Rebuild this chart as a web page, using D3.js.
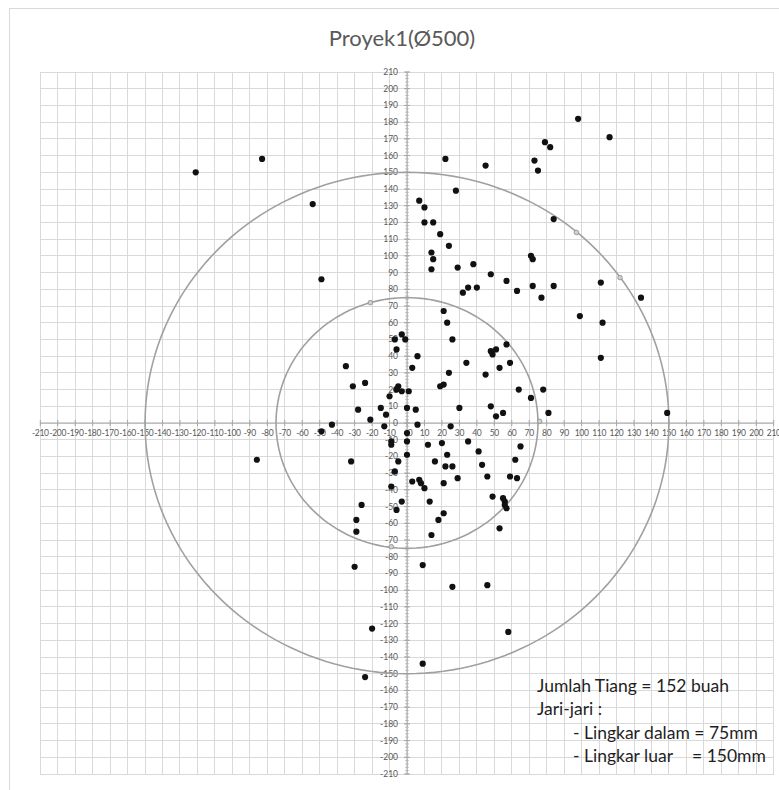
<!DOCTYPE html>
<html>
<head>
<meta charset="utf-8">
<script src="https://cdn.jsdelivr.net/npm/d3@7"></script>
<style>
  html, body { margin: 0; padding: 0; background: #fff; }
  svg { display: block; }
</style>
</head>
<body>
<script>
// ---- data ----
const title = "Proyek1(Ø500)";
const tickValues = d3.range(-210, 211, 10);
const radii = [75, 150];
const pointsX = [-121,-83,-54,-49,7,98,116,79,82,22,45,73,75,28,10,10,15,84,19,24,14,15,14,29,38,71,72,111,134,48,57,63,72,84,77,32,35,40,99,112,111,149,21,23,26,57,48,51,49,59,34,53,45,24,19,21,64,78,71,30,48,51,55,81,25,12,20,35,65,41,23,16,22,26,43,62,29,46,59,63,21,7,8,10,-7,-3,-1,-6,6,3,-35,-31,-24,-5,-6,-3,1,-10,-28,-15,-12,0,5,-21,-43,-49,-13,6,-9,-9,0,0,-86,-32,-5,0,-7,-9,3,13,-3,-6,18,14,9,9,-26,-29,-29,-30,21,49,55,56,56,57,53,26,46,58,-20,-24];
const pointsY = [150,158,131,86,133,182,171,168,165,158,154,157,151,139,129,120,120,122,113,106,102,98,92,93,95,100,98,84,75,89,85,79,82,82,75,78,81,81,64,60,39,6,67,60,50,47,43,44,41,36,36,33,29,30,22,23,20,20,15,9,10,4,6,6,-2,-13,-12,-11,-14,-17,-19,-23,-26,-26,-25,-22,-33,-32,-32,-33,-36,-34,-36,-39,50,53,50,44,40,33,34,22,24,22,20,19,19,16,8,9,5,9,8,2,-1,-5,-2,-1,-11,-13,-6,-11,-22,-23,-23,-19,-29,-38,-35,-47,-47,-52,-58,-67,-85,-144,-49,-58,-65,-86,-54,-44,-45,-47,-49,-51,-63,-98,-97,-125,-123,-152];
const circleMarkX = [-21, 76, -9, 97, 122];
const circleMarkY = [72, 1, -74, 114, 87];
const noteLines = ["Jumlah Tiang = 152 buah", "Jari-jari :", "- Lingkar dalam = 75mm", "- Lingkar luar", "= 150mm"];

// ---- layout ----
const W = 779, H = 790;
const svg = d3.select("body").append("svg").attr("width", W).attr("height", H);

const x = d3.scaleLinear().domain([-210, 210]).range([40.3, 773.7]);
const y = d3.scaleLinear().domain([-210, 210]).range([774, 72]);

// chart border
svg.append("rect").attr("x", 9.5).attr("y", 8.5).attr("width", W + 10).attr("height", H + 10)
  .attr("fill", "none").attr("stroke", "#d9d9d9").attr("stroke-width", 1);

// title
svg.append("text").attr("x", 402).attr("y", 46).attr("text-anchor", "middle")
  .attr("font-family", "Lato, 'Open Sans', sans-serif").attr("font-size", 22)
  .attr("fill", "#595959").text(title);

// gridlines
const grid = svg.append("g").attr("stroke", "#d9d9d9").attr("stroke-width", 1).attr("shape-rendering", "crispEdges");
grid.selectAll(".gv").data(tickValues).join("line")
  .attr("x1", d => x(d)).attr("x2", d => x(d)).attr("y1", y(210)).attr("y2", y(-210));
grid.selectAll(".gh").data(tickValues).join("line")
  .attr("y1", d => y(d)).attr("y2", d => y(d)).attr("x1", x(-210)).attr("x2", x(210));

// axes
const axisColor = "#a6a6a6";
const ax = svg.append("g");
ax.append("line").attr("x1", x(-210)).attr("x2", x(210)).attr("y1", y(0)).attr("y2", y(0))
  .attr("stroke", axisColor).attr("stroke-width", 1);
ax.append("line").attr("x1", x(0)).attr("x2", x(0)).attr("y1", y(210)).attr("y2", y(-210))
  .attr("stroke", axisColor).attr("stroke-width", 1);
ax.selectAll(".tx").data(tickValues).join("line")
  .attr("x1", d => x(d)).attr("x2", d => x(d)).attr("y1", y(0) - 3).attr("y2", y(0) + 3)
  .attr("stroke", axisColor);
ax.selectAll(".ty").data(tickValues).join("line")
  .attr("y1", d => y(d)).attr("y2", d => y(d)).attr("x1", x(0) - 3).attr("x2", x(0) + 3)
  .attr("stroke", axisColor);
ax.selectAll(".mty").data(d3.range(-210, 211, 2)).join("line")
  .attr("y1", d => y(d)).attr("y2", d => y(d)).attr("x1", x(0) - 2).attr("x2", x(0) + 2)
  .attr("stroke", axisColor).attr("stroke-width", 0.6);

// tick labels
const lab = svg.append("g").attr("font-family", "Lato, 'Open Sans', sans-serif")
  .attr("font-size", 8.5).attr("fill", "#595959");
lab.selectAll(".lx").data(tickValues).join("text")
  .attr("x", d => x(d) + (d === 0 ? 3 : 0)).attr("y", y(0) + 13).attr("text-anchor", "middle")
  .attr("letter-spacing", -0.3)
  .text(d => d);
lab.selectAll(".ly").data(tickValues).join("text")
  .attr("x", x(0) - 9).attr("y", d => y(d) + 3).attr("text-anchor", "end")
  .text(d => d);

// rings
const ringLine = d3.line().curve(d3.curveLinearClosed);
svg.selectAll(".ring").data(radii).join("path")
  .attr("d", r => ringLine(d3.range(0, 360, 2).map(a => {
    const t = a * Math.PI / 180;
    return [x(r * Math.cos(t)), y(r * Math.sin(t))];
  })))
  .attr("fill", "none").attr("stroke", "#a0a0a0").attr("stroke-width", 1.6);

// markers on rings
svg.selectAll(".cm").data(circleMarkX.map((v, i) => [v, circleMarkY[i]])).join("circle")
  .attr("cx", d => x(d[0])).attr("cy", d => y(d[1])).attr("r", 2.3)
  .attr("fill", "#d0d0d0").attr("stroke", "#8a8a8a").attr("stroke-width", 0.8);

// points
svg.selectAll(".pt").data(pointsX.map((v, i) => [v, pointsY[i]])).join("circle")
  .attr("cx", d => x(d[0])).attr("cy", d => y(d[1])).attr("r", 3.1)
  .attr("fill", "#111");

// note text
const note = svg.append("g").attr("font-family", "Lato, 'Open Sans', sans-serif")
  .attr("font-size", 17.5).attr("fill", "#1f1f1f");
const notePos = [[537, 692], [537, 715], [573, 739], [573, 762], [692, 762]];
note.selectAll("text").data(noteLines).join("text")
  .attr("x", (d, i) => notePos[i][0]).attr("y", (d, i) => notePos[i][1])
  .text(d => d);
</script>
</body>
</html>
